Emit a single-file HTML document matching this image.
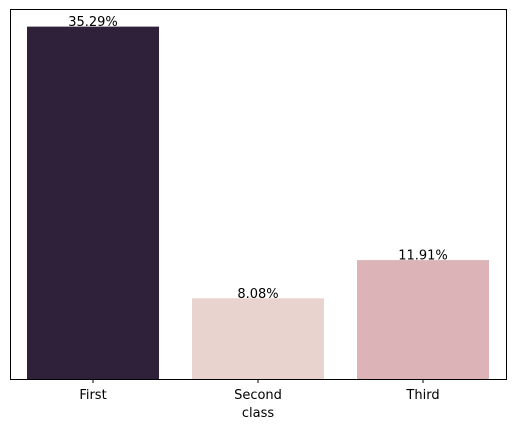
<!DOCTYPE html>
<html><head><meta charset="utf-8"><style>
body{margin:0;background:#fff;}
text{font-family:"DejaVu Sans","Liberation Sans",sans-serif;font-size:13px;fill:#000;}
</style></head><body>
<svg id="chart" width="515" height="432" xmlns="http://www.w3.org/2000/svg">
<g id="marks"></g>
<rect x="10.5" y="9.5" width="496" height="370" fill="none" stroke="#000" stroke-width="1"/>
<text x="258" y="417" text-anchor="middle">class</text>
</svg>
<script>
const categories=["First","Second","Third"];
const values=[35.29,8.08,11.91];
const labels=["35.29%","8.08%","11.91%"];
const colors=["#2f2139","#e8d3ce","#dcb4b8"];
const ns="http://www.w3.org/2000/svg";
const g=document.getElementById('marks');
const plotLeft=10,plotRight=506,plotTop=9,plotBottom=379;
const ymax=Math.max(...values)*1.05;
const yScale=v=>plotBottom-(v/ymax)*(plotBottom-plotTop);
const xScale=i=>27+i*165;
const bw=132;
categories.forEach((c,i)=>{
  const r=document.createElementNS(ns,'rect');
  r.setAttribute('x',xScale(i));r.setAttribute('y',yScale(values[i]));
  r.setAttribute('width',bw);r.setAttribute('height',plotBottom-yScale(values[i]));
  r.setAttribute('fill',colors[i]);
  
  
  g.appendChild(r);
  const t=document.createElementNS(ns,'text');
  t.setAttribute('x',xScale(i)+bw/2);t.setAttribute('y',yScale(values[i])-0.5);
  t.setAttribute('text-anchor','middle');t.textContent=labels[i];
  
  
  g.appendChild(t);
  const tk=document.createElementNS(ns,'line');
  tk.setAttribute('x1',xScale(i)+bw/2);tk.setAttribute('x2',xScale(i)+bw/2);
  tk.setAttribute('y1',plotBottom);tk.setAttribute('y2',plotBottom+4);
  tk.setAttribute('stroke','#000');
  
  
  g.appendChild(tk);
  const tl=document.createElementNS(ns,'text');
  tl.setAttribute('x',xScale(i)+bw/2);tl.setAttribute('y',399);
  tl.setAttribute('text-anchor','middle');tl.textContent=c;
  
  
  g.appendChild(tl);
});
</script>
</body></html>
